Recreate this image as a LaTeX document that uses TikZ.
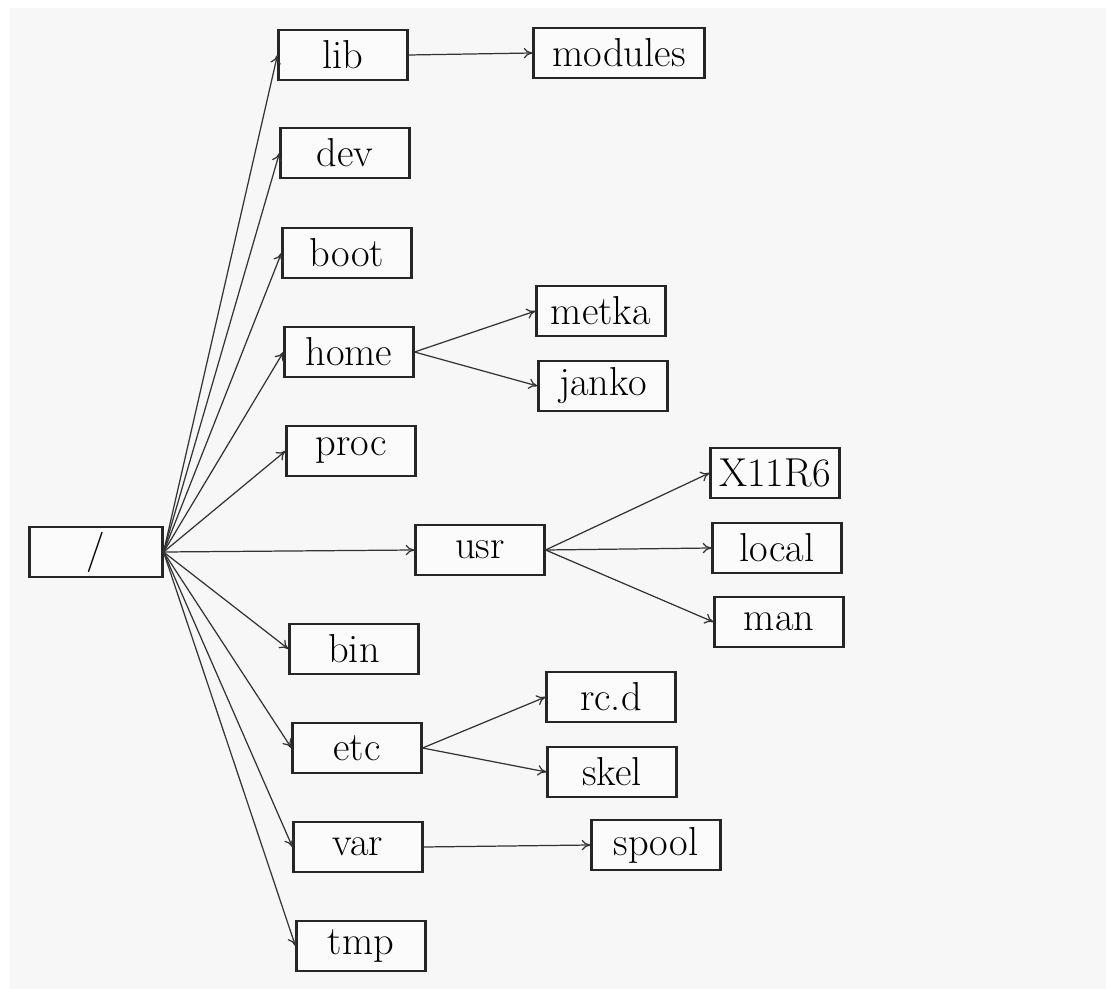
\documentclass[tikz,border=0pt]{standalone}
\usetikzlibrary{arrows.meta}
\begin{document}
\begin{tikzpicture}[x=0.02cm,y=-0.02cm,
  dirbox/.style={draw=black!85, line width=1.2pt, fill=white!60!gray!8, minimum width=2.58cm, minimum height=1cm, inner sep=0pt, font=\fontsize{23}{27}\selectfont, text=black},
  link/.style={draw=black!80, line width=0.7pt, -{To[length=5pt,width=6pt]}}]
\useasboundingbox (0,0) rectangle (1106,989);
\fill[gray!6] (0,0) rectangle (1106,989);
\fill[white] (0,0) rectangle (1106,8);
\fill[white] (0,0) rectangle (10,989);
% nodes
\node[dirbox, minimum width=2.66cm] (root) at (96,552) {/};
\node[dirbox] (lib) at (343,55) {lib};
\node[dirbox, minimum width=3.42cm] (modules) at (619,53) {modules};
\node[dirbox] (dev) at (345,153) {dev};
\node[dirbox] (boot) at (347,253) {boot};
\node[dirbox] (home) at (349,352) {home};
\node[dirbox] (metka) at (601,311) {metka};
\node[dirbox] (janko) at (603,386) {janko};
\node[dirbox] (proc) at (351,451) {proc};
\node[dirbox] (usr) at (480,550) {usr};
\node[dirbox] (x11) at (775,473) {X11R6};
\node[dirbox] (local) at (777,548) {local};
\node[dirbox] (man) at (779,622) {man};
\node[dirbox] (bin) at (354,649) {bin};
\node[dirbox] (etc) at (357,748) {etc};
\node[dirbox] (rcd) at (611,697) {rc.d};
\node[dirbox] (skel) at (612,772) {skel};
\node[dirbox] (var) at (358,847) {var};
\node[dirbox] (spool) at (656,845) {spool};
\node[dirbox] (tmp) at (361,946) {tmp};
% connectors from root
\foreach \t in {lib,dev,boot,home,proc,usr,bin,etc,var,tmp}
  \draw[link] (root.east) -- (\t.west);
% second level
\draw[link] (lib.east) -- (modules.west);
\draw[link] (home.east) -- (metka.west);
\draw[link] (home.east) -- (janko.west);
\draw[link] (usr.east) -- (x11.west);
\draw[link] (usr.east) -- (local.west);
\draw[link] (usr.east) -- (man.west);
\draw[link] (etc.east) -- (rcd.west);
\draw[link] (etc.east) -- (skel.west);
\draw[link] (var.east) -- (spool.west);
\end{tikzpicture}
\end{document}
